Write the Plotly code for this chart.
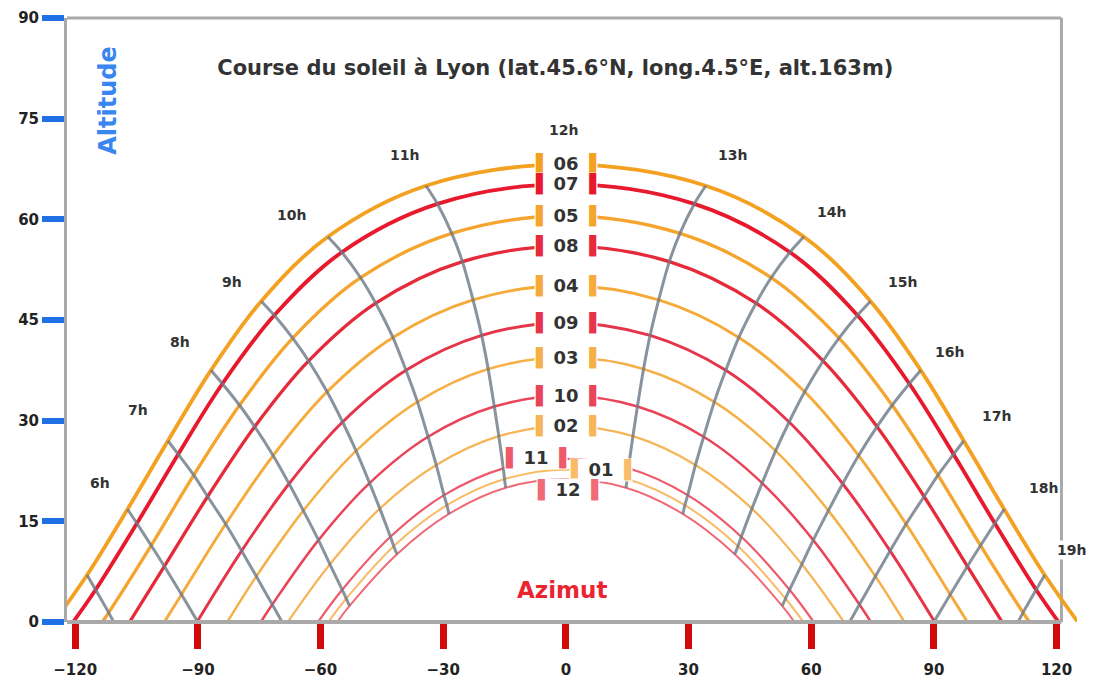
import plotly.graph_objects as go

# Sun path diagram for Lyon: one curve per month (solar time), hour lines across them.
# Month order is top (highest sun) to bottom.
MONTHS = ["06", "07", "05", "08", "04", "09", "03", "10", "02", "11", "01", "12"]
HOURS = [12, 11, 10, 9, 8, 7, 6, 5]  # morning hours; afternoon is the mirror image

# Azimuth (deg from south, morning negative) and altitude (deg) at each hour in HOURS
AZ_06 = [0, -34.2, -58.2, -74.5, -86.8, -97.3, -107.2, -117.1]
ALT_06 = [68.2, 65.0, 57.4, 47.8, 37.5, 27.0, 16.8, 7.0]
AZ_07 = [0, -31.4, -54.8, -71.3, -84.0, -94.8, -104.9, -115.0]
ALT_07 = [65.2, 62.3, 55.1, 45.7, 35.5, 25.0, 14.7, 4.8]
AZ_05 = [0, -27.9, -50.2, -66.8, -79.8, -91.0, -101.4, -111.8]
ALT_05 = [60.5, 57.9, 51.3, 42.3, 32.3, 21.9, 11.4, 1.4]
AZ_08 = [0, -25.3, -46.5, -62.9, -76.1, -87.6, -98.2]
ALT_08 = [56.0, 53.7, 47.5, 38.9, 29.1, 18.7, 8.3]
AZ_04 = [0, -22.7, -42.3, -58.4, -71.6, -83.2, -94.0]
ALT_04 = [50.1, 48.0, 42.4, 34.3, 24.8, 14.6, 4.1]
AZ_09 = [0, -20.6, -39.1, -54.6, -67.7, -79.3, -90.1]
ALT_09 = [44.6, 42.7, 37.5, 29.8, 20.6, 10.6, 0.1]
AZ_03 = [0, -19.0, -36.3, -51.3, -64.2, -75.7]
ALT_03 = [39.4, 37.7, 32.8, 25.5, 16.6, 6.8]
AZ_10 = [0, -17.5, -33.7, -48.0, -60.5, -71.8]
ALT_10 = [33.7, 32.1, 27.6, 20.7, 12.2, 2.6]
AZ_02 = [0, -16.4, -31.7, -45.5, -57.7]
ALT_02 = [29.2, 27.7, 23.4, 16.9, 8.6]
AZ_11 = [0, -15.3, -29.8, -42.9, -54.7]
ALT_11 = [24.3, 22.9, 18.9, 12.7, 4.8]
AZ_01 = [0, -15.0, -29.1, -42.1, -53.7]
ALT_01 = [22.7, 21.3, 17.4, 11.3, 3.5]
AZ_12 = [0, -14.7, -28.6, -41.3, -52.9]
ALT_12 = [21.3, 20.0, 16.1, 10.1, 2.4]

# Sunrise azimuth per month (same order as MONTHS); sunset is the mirror
SUNRISE_AZ = [-125.2, -120.5, -113.4, -106.7, -98.2, -90.3, -82.8, -74.6, -68.0, -60.6, -58.1, -55.9]

# Hour lines that run down to the horizon between two month curves
HOUR_END = [5, 7]
HOUR_END_AZ = [-110.6, -69.4]

# Hour labels
HOUR_LABELS = ["6h", "7h", "8h", "9h", "10h", "11h", "12h", "13h", "14h", "15h", "16h", "17h", "18h", "19h"]
HOUR_LABEL_AZ = [-113.9, -104.6, -94.4, -81.7, -67.2, -39.4, -0.7, 40.8, 65.0, 82.4, 93.9, 105.4, 116.7, 123.7]
HOUR_LABEL_ALT = [20.7, 31.6, 41.7, 50.7, 60.6, 69.6, 73.3, 69.6, 61.1, 50.7, 40.2, 30.7, 20.0, 10.7]

X_TICKS = [-120, -90, -60, -30, 0, 30, 60, 90, 120]
Y_TICKS = [0, 15, 30, 45, 60, 75, 90]

AZ_TABLE = [AZ_06, AZ_07, AZ_05, AZ_08, AZ_04, AZ_09, AZ_03, AZ_10, AZ_02, AZ_11, AZ_01, AZ_12]
ALT_TABLE = [ALT_06, ALT_07, ALT_05, ALT_08, ALT_04, ALT_09, ALT_03, ALT_10, ALT_02, ALT_11, ALT_01, ALT_12]

COLORS = ["#f4a020", "#e8192c", "#f5a52e", "#e52a3a", "#f6aa3a", "#e6344a",
          "#f6b048", "#ea4458", "#f7b558", "#ee5a6c", "#f8bc68", "#f06a78"]
WIDTHS = [3.8, 3.8, 3.3, 3.3, 2.9, 2.9, 2.5, 2.5, 2.2, 2.2, 2.0, 2.0]
HOUR_LINE_COLOR = "rgba(108,120,132,0.8)"
FRAME_COLOR = "#a9a9a9"

FONT = "DejaVu Sans"
X_RANGE = [-122, 125]
Y_RANGE = [0, 90]
FRAME_RIGHT_AZ = 121.2

fig = go.Figure()

# Month curves: sunrise -> morning hours -> noon -> afternoon hours -> sunset
for m, az, alt, rise, col, w in zip(MONTHS, AZ_TABLE, ALT_TABLE, SUNRISE_AZ, COLORS, WIDTHS):
    xs = az[::-1] + [-a for a in az[1:]]
    ys = alt[::-1] + alt[1:]
    if alt[-1] > 0.5:
        xs = [rise] + xs + [-rise]
        ys = [0] + ys + [0]
    fig.add_trace(go.Scatter(
        x=xs, y=ys, mode="lines", name=m, hoverinfo="skip",
        line=dict(color=col, width=w, shape="spline", smoothing=1.0),
    ))

# Hour lines: same solar hour joined across the months
for i, h in enumerate(HOURS[1:], start=1):
    xs, ys = [], []
    for az, alt in zip(AZ_TABLE, ALT_TABLE):
        if len(az) > i:
            xs.append(az[i])
            ys.append(alt[i])
    if h in HOUR_END:
        xs.append(HOUR_END_AZ[HOUR_END.index(h)])
        ys.append(0)
    for side in (1, -1):
        fig.add_trace(go.Scatter(
            x=[side * x for x in xs], y=ys, mode="lines", hoverinfo="skip",
            line=dict(color=HOUR_LINE_COLOR, width=3, shape="spline", smoothing=0.8),
        ))

annotations = []

# Month tags at the top of each curve, framed by thick brackets in the curve colour
LABEL_DX = {"11": -7.2, "01": 8.6, "12": 0.6}
LABEL_DY = {"11": 0.1, "01": 0.0, "12": -1.7}
THIN = "\u2009"
for m, alt, col in zip(MONTHS, ALT_TABLE, COLORS):
    bracket_l = f'<span style="color:{col};font-size:18px">▌</span>'
    bracket_r = f'<span style="color:{col};font-size:18px">▐</span>'
    annotations.append(dict(
        x=LABEL_DX.get(m, 0), y=alt[0] + LABEL_DY.get(m, 0), xref="x", yref="y",
        text=f"{bracket_l}{THIN}<b>{m}</b>{THIN}{bracket_r}", showarrow=False,
        font=dict(family=FONT, size=18, color="#333333"),
        bgcolor="white", borderpad=0, xanchor="center", yanchor="middle",
    ))

for lab, x, y in zip(HOUR_LABELS, HOUR_LABEL_AZ, HOUR_LABEL_ALT):
    annotations.append(dict(
        x=x, y=y, xref="x", yref="y", text=f"<b>{lab}</b>", showarrow=False,
        font=dict(family=FONT, size=14, color="#333333"),
        bgcolor="white", borderpad=1, xanchor="center", yanchor="middle",
    ))

annotations.append(dict(
    x=-1, y=4.8, xref="x", yref="y", text="<b>Azimut</b>", showarrow=False,
    font=dict(family=FONT, size=23, color="#ea2531"), xanchor="center", yanchor="middle",
))
annotations.append(dict(
    x=-112.0, y=77.8, xref="x", yref="y", text="<b>Altitude</b>", showarrow=False,
    textangle=-90, font=dict(family=FONT, size=24, color="#3a86f0"),
    xanchor="center", yanchor="middle",
))

# Frame: top, right and bottom borders ending at the right frame edge
xr = (FRAME_RIGHT_AZ - X_RANGE[0]) / (X_RANGE[1] - X_RANGE[0])
shapes = [
    dict(type="line", xref="paper", yref="paper", x0=0, x1=xr, y0=1, y1=1,
         line=dict(color=FRAME_COLOR, width=3), layer="below"),
    dict(type="line", xref="paper", yref="paper", x0=xr, x1=xr, y0=0, y1=1,
         line=dict(color=FRAME_COLOR, width=3), layer="below"),
    dict(type="line", xref="paper", yref="paper", x0=0, x1=xr, y0=0, y1=0,
         line=dict(color=FRAME_COLOR, width=4), layer="above"),
]

fig.update_layout(
    width=1104, height=686,
    margin=dict(l=67, r=27, t=18, b=64, autoexpand=False),
    paper_bgcolor="white", plot_bgcolor="white",
    showlegend=False,
    title=dict(
        text="Course du soleil à Lyon (lat.45.6°N, long.4.5°E, alt.163m)",
        x=0.503, y=0.901, xanchor="center", yanchor="middle",
        font=dict(family=FONT, size=21, color="#333333", weight="bold"),
    ),
    annotations=annotations,
    shapes=shapes,
)

fig.update_xaxes(
    range=X_RANGE, tickvals=X_TICKS, showgrid=False, zeroline=False,
    showline=False, automargin=False,
    ticks="outside", ticklen=26, tickwidth=7, tickcolor="#d10a0a",
    ticklabelstandoff=8,
    tickfont=dict(family=FONT, size=15, color="#222222", weight="bold"),
)
fig.update_yaxes(
    range=Y_RANGE, tickvals=Y_TICKS, showgrid=False, zeroline=False,
    showline=True, linecolor=FRAME_COLOR, linewidth=3, automargin=False,
    ticks="outside", ticklen=22, tickwidth=6, tickcolor="#1f6fe5",
    tickfont=dict(family=FONT, size=15, color="#222222", weight="bold"),
)

fig.write_html("out.html")
